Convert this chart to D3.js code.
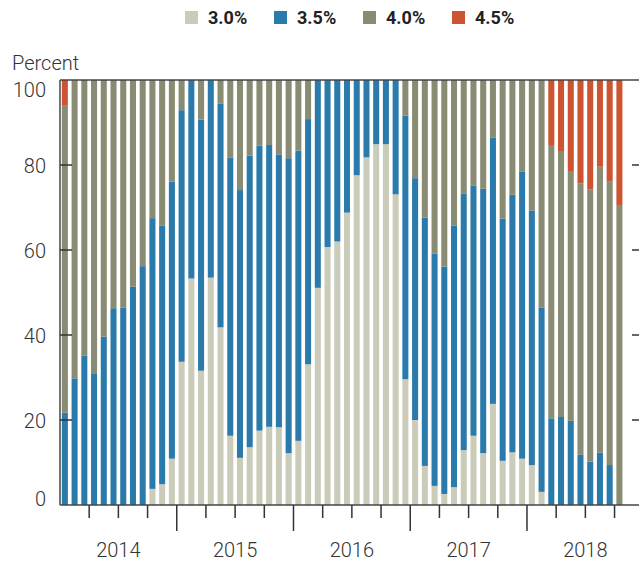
<!DOCTYPE html>
<html>
<head>
<meta charset="utf-8">
<script src="https://cdn.jsdelivr.net/npm/d3@7"></script>
<style>
  body { margin: 0; background: #fff; }
  svg { display: block; font-family: Roboto, "Noto Sans", sans-serif; }
</style>
</head>
<body>
<svg id="chart"></svg>
<script>
// Months Jan 2014 .. Oct 2018 (Nov 2018 slot left empty at the right edge)
const years = ['2014', '2015', '2016', '2017', '2018'];
const monthNames = ['Jan','Feb','Mar','Apr','May','Jun','Jul','Aug','Sep','Oct','Nov','Dec'];
const months = [];
years.forEach(y => monthNames.forEach(m => months.push(m + ' ' + y)));
const slots = months.slice(0, 59);

const keys = ['3.0%', '3.5%', '4.0%', '4.5%'];
const colors = ['#cbcbba', '#2a7bab', '#8a8b73', '#cc5430'];

// share of each rate, percent
const rate30 = [0, 0, 0, 0, 0, 0, 0, 0, 0, 3.8, 4.9, 10.9,
  33.7, 53.3, 31.6, 53.5, 41.8, 16.3, 11.1, 13.6, 17.5, 18.4, 18.3, 12.2,
  15.1, 33.1, 51.1, 60.7, 62.0, 68.8, 77.6, 81.8, 84.9, 84.9, 73.1, 29.6,
  20.0, 9.2, 4.5, 2.6, 4.2, 12.9, 16.3, 12.2, 23.8, 10.4, 12.4, 10.9,
  9.4, 3.1, 0, 0, 0, 0, 0, 0, 0, 0];
const rate35 = [21.7, 29.8, 35.1, 31.0, 39.6, 46.3, 46.4, 51.4, 56.2, 63.7, 60.9, 65.2,
  59.2, 46.7, 59.1, 46.5, 52.7, 65.5, 63.0, 68.6, 67.1, 66.3, 64.2, 69.4,
  68.3, 57.7, 48.9, 39.3, 38.0, 31.2, 22.4, 18.2, 15.1, 15.1, 26.9, 62.0,
  56.9, 58.4, 54.6, 53.5, 61.5, 60.3, 58.8, 62.2, 62.7, 57.0, 60.6, 67.6,
  59.9, 43.4, 20.4, 20.7, 19.8, 11.8, 10.2, 12.3, 9.4, 0];
const rate40 = [72.4, 70.2, 64.9, 69.0, 60.4, 53.7, 53.6, 48.6, 43.8, 32.5, 34.2, 23.9,
  7.1, 0, 9.3, 0, 5.5, 18.2, 25.9, 17.8, 15.4, 15.3, 17.5, 18.4,
  16.6, 9.2, 0, 0, 0, 0, 0, 0, 0, 0, 0, 8.4,
  23.1, 32.4, 40.9, 43.9, 34.3, 26.8, 24.9, 25.6, 13.5, 32.6, 27.0, 21.5,
  30.7, 53.5, 64.1, 62.4, 58.6, 63.9, 64.1, 67.3, 66.8, 70.6];
const rate45 = [5.9, 0, 0, 0, 0, 0, 0, 0, 0, 0, 0, 0,
  0, 0, 0, 0, 0, 0, 0, 0, 0, 0, 0, 0,
  0, 0, 0, 0, 0, 0, 0, 0, 0, 0, 0, 0,
  0, 0, 0, 0, 0, 0, 0, 0, 0, 0, 0, 0,
  0, 0, 15.5, 16.9, 21.6, 24.3, 25.7, 20.4, 23.8, 29.4];

const yTicks = [0, 20, 40, 60, 80, 100];

const width = 639, height = 563;
const svg = d3.select('#chart').attr('width', width).attr('height', height);

const table = rate30.map((v, i) => ({
  month: months[i], '3.0%': v, '3.5%': rate35[i], '4.0%': rate40[i], '4.5%': rate45[i]
}));

const x = d3.scaleBand().domain(slots).range([60, 634]).paddingInner(0.38).paddingOuter(0.19);
const y = d3.scaleLinear().domain([0, 100]).range([505, 80]);
const color = d3.scaleOrdinal().domain(keys).range(colors);

const series = d3.stack().keys(keys)(table);

svg.append('g').selectAll('g')
  .data(series)
  .enter().append('g')
  .attr('fill', d => color(d.key))
  .selectAll('rect')
  .data(d => d)
  .enter().append('rect')
  .attr('x', d => x(d.data.month))
  .attr('width', x.bandwidth())
  .attr('y', d => y(d[1]))
  .attr('height', d => Math.max(0, y(d[0]) - y(d[1])));

// frame: top, left, bottom
const axisColor = '#444';
svg.append('line').attr('x1', 60).attr('x2', width).attr('y1', y(100)).attr('y2', y(100))
  .attr('stroke', axisColor).attr('stroke-width', 1.5);
svg.append('line').attr('x1', 60).attr('x2', width).attr('y1', y(0)).attr('y2', y(0))
  .attr('stroke', axisColor).attr('stroke-width', 1.5);
svg.append('line').attr('x1', 60).attr('x2', 60).attr('y1', y(100)).attr('y2', y(0))
  .attr('stroke', axisColor).attr('stroke-width', 1.5);

// inner left ticks and right ticks
const midTicks = yTicks.filter(t => t > 0 && t < 100);
svg.append('g').selectAll('line')
  .data(midTicks)
  .enter().append('line')
  .attr('x1', 60).attr('x2', 72)
  .attr('y1', d => y(d)).attr('y2', d => y(d))
  .attr('stroke', '#333').attr('stroke-width', 1.5);
svg.append('g').selectAll('line')
  .data(midTicks)
  .enter().append('line')
  .attr('x1', 632).attr('x2', width)
  .attr('y1', d => y(d)).attr('y2', d => y(d))
  .attr('stroke', '#333').attr('stroke-width', 1.5);

// y labels
svg.append('g').selectAll('text')
  .data(yTicks)
  .enter().append('text')
  .attr('x', 46)
  .attr('y', d => d === 100 ? y(d) + 17 : d === 0 ? y(d) + 1 : y(d) + 7.5)
  .attr('text-anchor', 'end')
  .attr('font-size', 20)
  .attr('font-weight', 300)
  .attr('fill', '#333')
  .text(d => d);

svg.append('text')
  .attr('x', 12).attr('y', 70)
  .attr('font-size', 20)
  .attr('font-weight', 300)
  .attr('fill', '#333')
  .text('Percent');

// x ticks: quarters short, years long
const boundary = i => x(slots[i]) - (x.step() - x.bandwidth()) / 2;
const qIdx = d3.range(3, 58, 3);
svg.append('g').selectAll('line')
  .data(qIdx)
  .enter().append('line')
  .attr('x1', d => boundary(d)).attr('x2', d => boundary(d))
  .attr('y1', y(0)).attr('y2', d => d % 12 === 0 ? 531 : 518)
  .attr('stroke', '#333').attr('stroke-width', 1.5);

svg.append('g').selectAll('text')
  .data(years)
  .enter().append('text')
  .attr('x', (d, i) => boundary(i * 12) + x.step() * 6)
  .attr('y', 557)
  .attr('text-anchor', 'middle')
  .attr('font-size', 20)
  .attr('font-weight', 300)
  .attr('fill', '#333')
  .text(d => d);

// legend
const legendX = [185, 274, 363, 452];
const legend = svg.append('g').selectAll('g')
  .data(keys)
  .enter().append('g')
  .attr('transform', (d, i) => 'translate(' + legendX[i] + ',11)');
legend.append('rect')
  .attr('width', 13).attr('height', 13)
  .attr('fill', d => color(d));
legend.append('text')
  .attr('x', 23).attr('y', 13)
  .attr('font-size', 18)
  .attr('font-weight', 'bold')
  .attr('fill', '#222')
  .text(d => d);
</script>
</body>
</html>
